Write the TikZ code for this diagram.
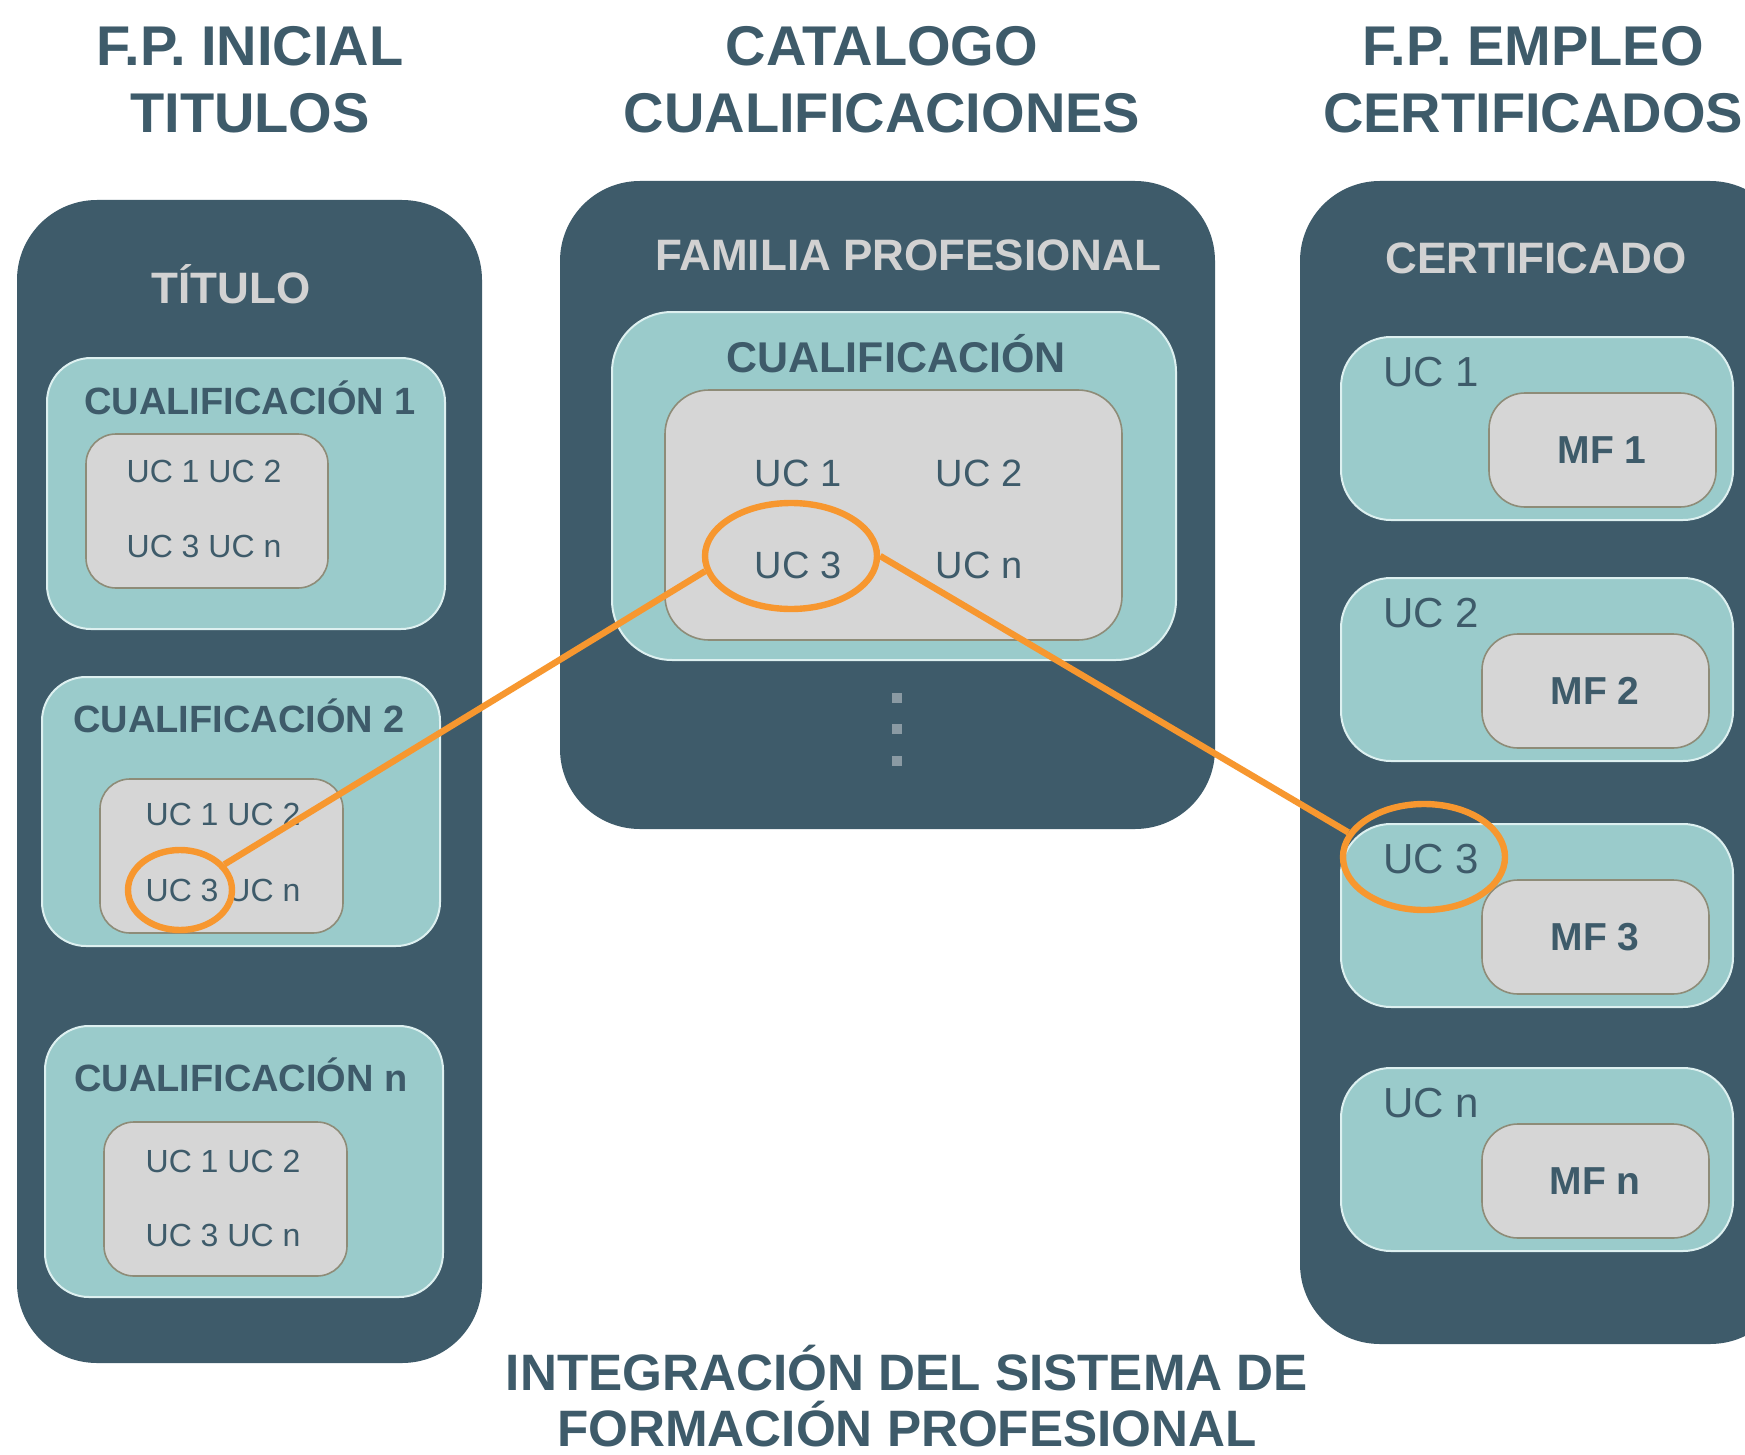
\documentclass[tikz,border=0pt]{standalone}
\usepackage{fontspec}
\setmainfont{Liberation Sans}
\usetikzlibrary{shapes.geometric}

\definecolor{panelblue}{HTML}{3E5B6A}
\definecolor{tealbox}{HTML}{9ACBCB}
\definecolor{tealedge}{HTML}{DDF0F0}
\definecolor{ucgrey}{HTML}{D6D6D6}
\definecolor{ucedge}{HTML}{8E8C78}
\definecolor{titlegrey}{HTML}{D2D2D2}
\definecolor{linkorange}{HTML}{F7972F}
\definecolor{dotgrey}{HTML}{8A9AA3}

\tikzset{
  panel/.style={fill=panelblue, rounded corners=40pt},
  qualbox/.style={fill=tealbox, draw=tealedge, line width=1pt, rounded corners=22pt},
  ucbox/.style={fill=ucgrey, draw=ucedge, line width=0.8pt, rounded corners=15pt},
  header/.style={text=panelblue, align=center, font=\fontsize{28}{33.5}\selectfont\bfseries},
  paneltitle/.style={text=titlegrey, font=\fontsize{22}{24}\selectfont\bfseries},
  quallabel/.style={text=panelblue, font=\fontsize{19}{21}\selectfont\bfseries},
  uclabel/.style={text=panelblue, font=\fontsize{16}{18}\selectfont},
  ring/.style={ellipse, draw=linkorange, line width=3.2pt, inner sep=0pt},
  link/.style={draw=linkorange, line width=3.2pt}
}

\begin{document}
\begin{tikzpicture}[x=0.5pt, y=-0.5pt]
  \begin{scope}
    \clip (0,0) rectangle (1745,1455);
    \fill[white] (0,0) rectangle (1745,1455);

    % headers
    \node[header] (hdrleft) at (250,80) {F.P. INICIAL\\TITULOS};
    \node[header] (hdrmid) at (882,80) {CATALOGO\\CUALIFICACIONES};
    \node[header] (hdrright) at (1533,80) {F.P. EMPLEO\\CERTIFICADOS};

    % left: titulo
    \fill[panel] (17,200) rectangle (482,1363);
    \node[paneltitle] (titulo) at (231,284) {TÍTULO};

    \draw[qualbox] (47,358) rectangle (445,629);
    \node[quallabel] (qual1) at (250,398) {CUALIFICACIÓN 1};
    \draw[ucbox] (86,434) rectangle (328,588);
    \node[uclabel] (q1a) at (204,471) {UC 1 UC 2};
    \node[uclabel] (q1b) at (204,546) {UC 3 UC n};

    \draw[qualbox] (42,677) rectangle (440,946);
    \node[quallabel] (qual2) at (239,716) {CUALIFICACIÓN 2};
    \draw[ucbox] (100,779) rectangle (343,933);
    \node[uclabel] (q2a) at (223,814) {UC 1 UC 2};
    \node[uclabel] (q2b) at (223,890) {UC 3 UC n};

    \draw[qualbox] (45,1026) rectangle (443,1297);
    \node[quallabel] (qualn) at (241,1075) {CUALIFICACIÓN n};
    \draw[ucbox] (104,1122) rectangle (347,1276);
    \node[uclabel] (qna) at (223,1161) {UC 1 UC 2};
    \node[uclabel] (qnb) at (223,1235) {UC 3 UC n};

    % middle: familia profesional
    \fill[panel] (560,181) rectangle (1215,829);
    \node[paneltitle] (familia) at (908,255) {FAMILIA PROFESIONAL};
    \draw[qualbox, rounded corners=30pt] (612,312) rectangle (1176,660);
    \node[quallabel, font=\fontsize{21.5}{24}\selectfont\bfseries] (qualmid) at (896,354) {CUALIFICACIÓN};
    \draw[ucbox, rounded corners=22pt] (665,390) rectangle (1122,640);
    \begin{scope}[uclabel/.append style={font=\fontsize{19}{21}\selectfont}]
      \node[uclabel] (muc1) at (798,473) {UC 1};
      \node[uclabel] (muc2) at (979,473) {UC 2};
      \node[uclabel] (muc3) at (798,565) {UC 3};
      \node[uclabel] (mucn) at (979,565) {UC n};
    \end{scope}
    \foreach \y in {698,729,761}
      \fill[dotgrey] ({892},{\y-5}) rectangle ({902},{\y+5});

    % right: certificado
    \fill[panel] (1300,181) rectangle (1790,1344);
    \node[paneltitle] (certif) at (1536,258) {CERTIFICADO};
    \foreach \t/\mx/\n in {337/1489/1, 578/1482/2, 824/1482/3, 1068/1482/n} {
      \draw[qualbox, rounded corners=25pt] (1341,\t) rectangle (1733,{\t+183});
      \draw[ucbox, rounded corners=18pt] (\mx,{\t+56}) rectangle ({\mx+227},{\t+170});
      \node[quallabel, font=\fontsize{21}{23}\selectfont, anchor=west] (uc\n) at (1376,{\t+35}) {UC \n};
      \node[quallabel, font=\fontsize{19.5}{21}\selectfont\bfseries] (mf\n) at ({\mx+113},{\t+113}) {MF \n};
    }

    % bottom caption
    \node[header, font=\fontsize{25.6}{28}\selectfont\bfseries] (caption) at (907,1396)
      {INTEGRACIÓN DEL SISTEMA DE\\FORMACIÓN PROFESIONAL};

    % orange links
    \node[ring, minimum width=52pt, minimum height=40pt] (ringleft) at (180,890) {};
    \node[ring, minimum width=86pt, minimum height=53pt] (ringmid) at (791,556) {};
    \node[ring, minimum width=81pt, minimum height=53pt] (ringright) at (1424,857) {};
    \draw[link] (ringleft.30) -- (ringmid.190);
    \draw[link] (ringmid.east) -- (ringright.162);
  \end{scope}
  \pgfresetboundingbox
  \useasboundingbox (0,0) rectangle (1745,1455);
\end{tikzpicture}
\end{document}
